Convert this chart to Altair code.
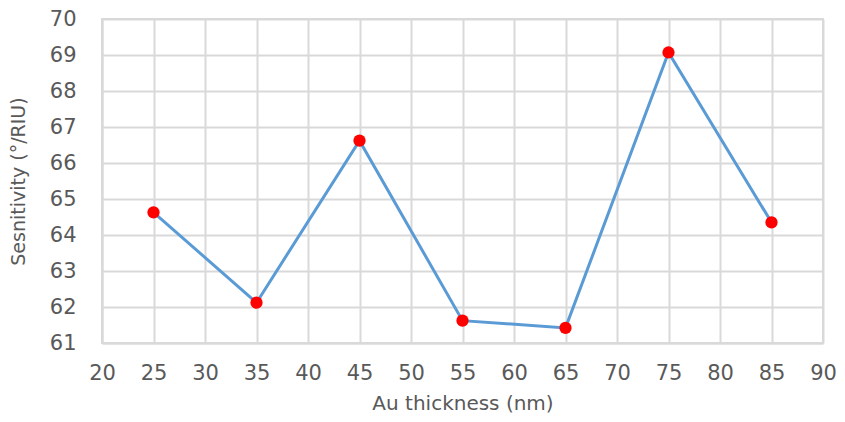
import altair as alt
import pandas as pd

thickness = [25, 35, 45, 55, 65, 75, 85]
sensitivity = [64.63, 62.12, 66.62, 61.62, 61.42, 69.07, 64.35]
x_ticks = [20, 25, 30, 35, 40, 45, 50, 55, 60, 65, 70, 75, 80, 85, 90]
y_ticks = [61, 62, 63, 64, 65, 66, 67, 68, 69, 70]

df = pd.DataFrame({"x": thickness, "y": sensitivity})

FONT = "DejaVu Sans"
TXT = "#595959"
GRID = "#D9D9D9"

x_enc = alt.X("x:Q", scale=alt.Scale(domain=[20, 90], nice=False, zero=False),
              axis=alt.Axis(values=x_ticks, title="Au thickness (nm)", labelPadding=19,
                            titleFontSize=20, titlePadding=10))
y_enc = alt.Y("y:Q", scale=alt.Scale(domain=[61, 70], nice=False, zero=False),
              axis=alt.Axis(values=y_ticks, title="Sesnitivity (°/RIU)", labelPadding=26,
                            titleFontSize=19, titlePadding=21))

base = alt.Chart(df).encode(x=x_enc, y=y_enc)
line = base.mark_line(color="#5B9BD5", strokeWidth=3)
pts = base.mark_point(filled=True, color="#FF0000", opacity=1, size=150, shape="circle")

chart = (line + pts).properties(
    width=721, height=324,
    autosize=alt.AutoSizeParams(type="none"),
    padding={"left": 94, "top": 11, "right": 14, "bottom": 70},
).configure_view(stroke=GRID, strokeWidth=2).configure_axis(
    grid=True, gridColor=GRID, gridWidth=2, domainColor=GRID, domainWidth=2,
    ticks=False, labelFontSize=21, labelColor=TXT, labelFont=FONT,
    titleFont=FONT, titleColor=TXT, titleFontWeight="normal",
    labelOverlap=False, labelFlush=False, labelBound=False,
)

chart.save("out.html", embed_options={"renderer": "svg", "actions": False})
